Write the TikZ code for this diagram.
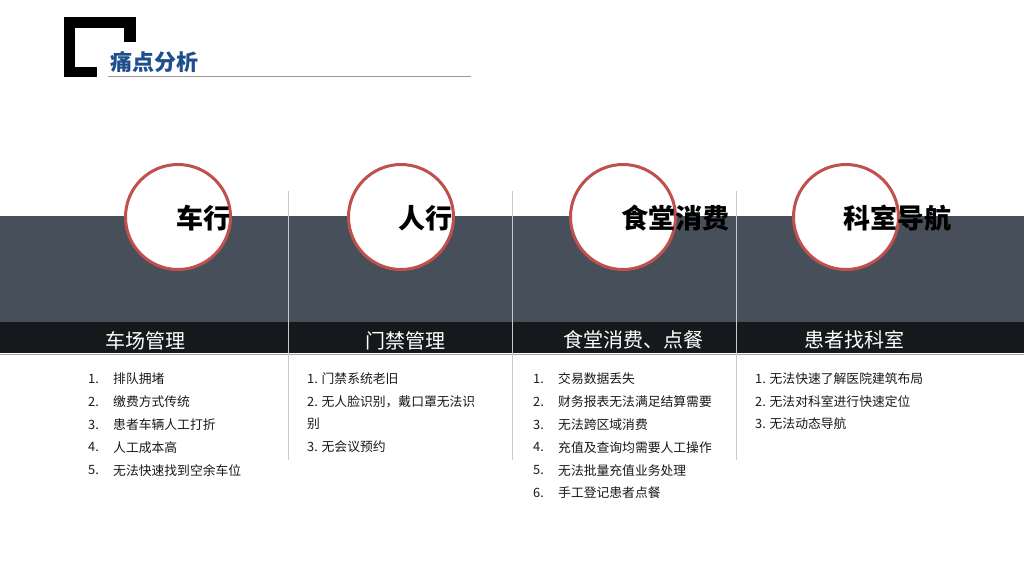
\documentclass[tikz,border=0pt]{standalone}
\usepackage{fontspec}
\setmainfont{Noto Sans CJK SC}
\definecolor{band}{HTML}{474F5A}
\definecolor{barblk}{HTML}{16191C}
\definecolor{ringred}{HTML}{C0504D}
\definecolor{titleblue}{HTML}{1F4E8C}
\definecolor{sepgrey}{HTML}{C8C8C8}
\tikzset{
  ring/.style={circle,draw=ringred,line width=3pt,fill=white,minimum size=105pt,inner sep=0},
  ringlabel/.style={anchor=west,inner sep=0,font=\fontsize{27}{32}\selectfont\bfseries},
  barlabel/.style={inner sep=0,text=white,font=\fontsize{20}{24}\selectfont},
  item/.style={anchor=west,inner sep=0,font=\fontsize{12.8}{15}\selectfont,text=black!90},
  sepline/.style={draw=sepgrey,line width=1pt},
}
\begin{document}
\begin{tikzpicture}[x=1pt,y=-1pt]
\useasboundingbox (0,0) rectangle (1024,576);
\fill[white] (0,0) rectangle (1024,576);
% header bracket
\fill[black] (64,17) rectangle (136,28);
\fill[black] (64,17) rectangle (75,77);
\fill[black] (124,17) rectangle (136,42);
\fill[black] (64,67) rectangle (97,77);
\node[anchor=west,inner sep=0,text=titleblue,font=\fontsize{22}{26}\selectfont\bfseries] (title) at (110,62) {痛点分析};
\coordinate (tl) at (108,76);
\coordinate (tr) at (471,76);
\draw[draw=gray!80,line width=1pt] (tl) -- (tr);
% bands
\fill[band] (0,216) rectangle (1024,322);
\fill[barblk] (0,322) rectangle (1024,353);
\draw[draw=gray!70,line width=1pt] (0,354) -- (1024,354);
% separators
\foreach \x/\n in {288/a,512/b,736/c}{
  \coordinate (s\n1) at (\x,191);
  \coordinate (s\n2) at (\x,460);
  \draw[sepline] (s\n1) -- (s\n2);
}
% rings
\node[ring] (r1) at (178,217) {};
\node[ring] (r2) at (401,217) {};
\node[ring] (r3) at (623,217) {};
\node[ring] (r4) at (846,217) {};
\node[ringlabel] (l1) at (176,218) {车行};
\node[ringlabel] (l2) at (398,218) {人行};
\node[ringlabel] (l3) at (621,218) {食堂消费};
\node[ringlabel] (l4) at (843,218) {科室导航};
% bar labels
\node[barlabel] (b1) at (145,341) {车场管理};
\node[barlabel] (b2) at (405,341) {门禁管理};
\node[barlabel] (b3) at (633,340) {食堂消费、点餐};
\node[barlabel] (b4) at (854,340) {患者找科室};
% column 1
\foreach \i/\t [count=\k] in {1/排队拥堵,2/缴费方式传统,3/患者车辆人工打折,4/人工成本高,5/无法快速找到空余车位}{
  \node[item] (an\k) at (88,{379+22.8*(\k-1)}) {\i.};
  \node[item] (at\k) at (113,{379+22.8*(\k-1)}) {\t};
}
% column 2
\node[item] (bt1) at (307,379) {1. 门禁系统老旧};
\node[item] (bt2) at (307,401.5) {2. 无人脸识别，戴口罩无法识};
\node[item] (bt3) at (307,424) {别};
\node[item] (bt4) at (307,447) {3. 无会议预约};
% column 3
\foreach \i/\t [count=\k] in {1/交易数据丢失,2/财务报表无法满足结算需要,3/无法跨区域消费,4/充值及查询均需要人工操作,5/无法批量充值业务处理,6/手工登记患者点餐}{
  \node[item] (cn\k) at (533,{379+22.8*(\k-1)}) {\i.};
  \node[item] (ct\k) at (558,{379+22.8*(\k-1)}) {\t};
}
% column 4
\node[item] (dt1) at (755,379) {1. 无法快速了解医院建筑布局};
\node[item] (dt2) at (755,401.5) {2. 无法对科室进行快速定位};
\node[item] (dt3) at (755,424) {3. 无法动态导航};
\end{tikzpicture}
\end{document}
